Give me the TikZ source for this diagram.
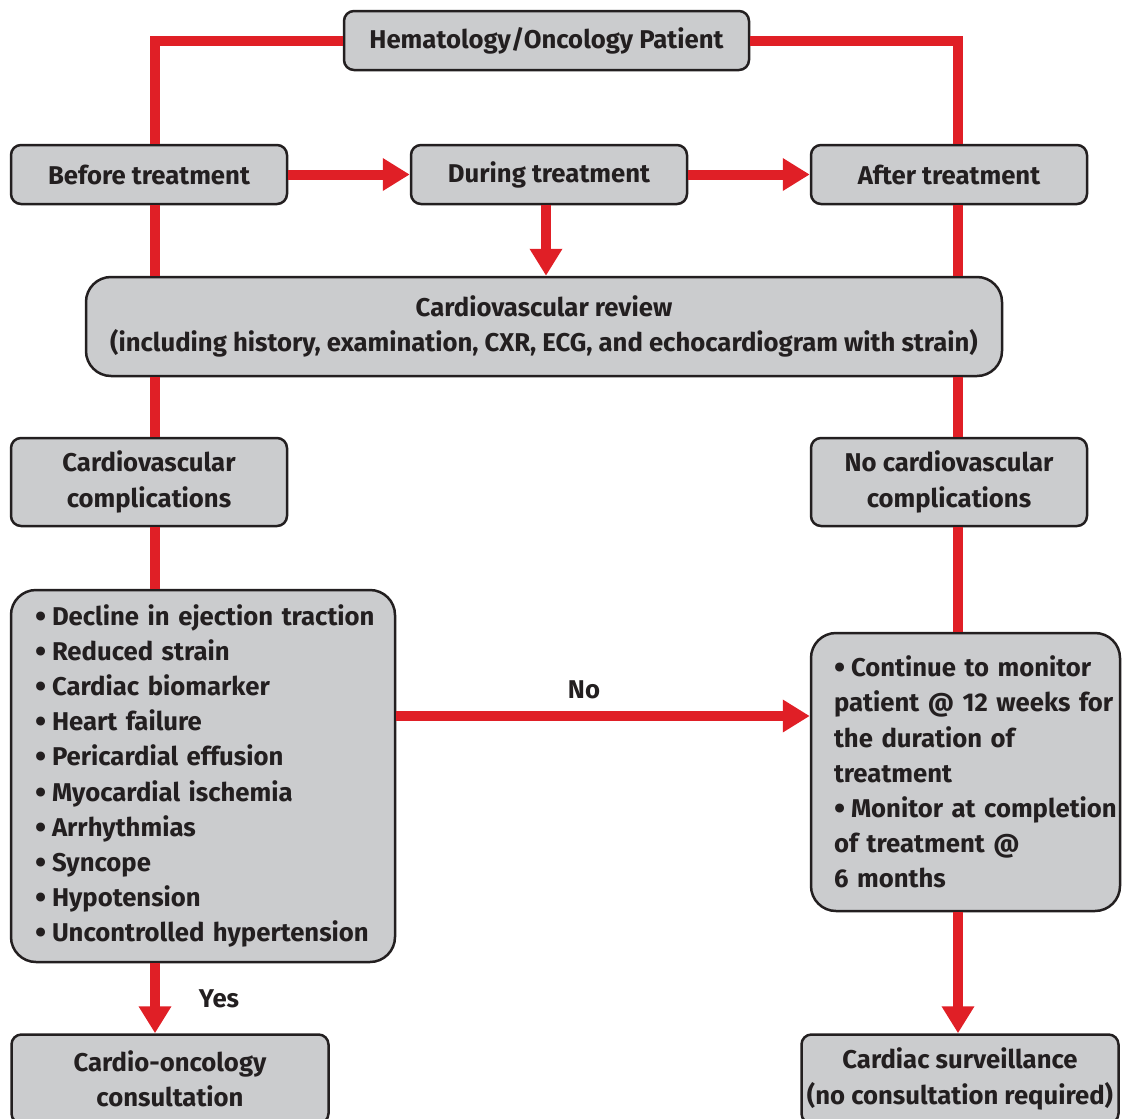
\documentclass[tikz,border=0pt]{standalone}
\usepackage{fontspec}
\setmainfont{Fira Sans}
\usetikzlibrary{arrows.meta}
\definecolor{redl}{HTML}{E01F26}
\definecolor{boxg}{HTML}{CBCCCE}
\definecolor{ink}{HTML}{231F20}
\newcommand{\bul}{\makebox[17pt][l]{\raisebox{-2pt}{\scalebox{1.25}{•}}}}
\begin{document}
\begin{tikzpicture}[x=1pt,y=-1pt,
 box/.style={draw=ink, line width=2.5pt, fill=boxg, rounded corners=10pt, text=ink,
   font=\fontsize{25.7}{35.2}\selectfont\bfseries, align=center, inner sep=0pt},
 bigbox/.style={box, rounded corners=25pt},
 link/.style={draw=redl, line width=10pt},
 arr/.style={link, -{Triangle[length=27pt,width=31pt]}},
 lbl/.style={text=ink, font=\fontsize{25.7}{30}\selectfont\bfseries, inner sep=0pt}
]
\useasboundingbox (0,0) rectangle (1122,1119);
\clip (0,0) rectangle (1122,1119);

\node[box, minimum width=405pt, minimum height=59pt] (top) at (546.5,40.5) {Hematology/Oncology Patient};
\node[box, minimum width=276pt, minimum height=59pt] (before) at (149,174.5) {Before treatment};
\node[box, minimum width=276pt, minimum height=59pt] (during) at (549,174.5) {During treatment};
\node[box, minimum width=276pt, minimum height=59pt] (after) at (949,174.5) {After treatment};
\node[bigbox, minimum width=916pt, minimum height=99pt] (cv) at (544,326.5)
  {Cardiovascular review\\(including history, examination, CXR, ECG, and echocardiogram with strain)};
\node[box, minimum width=276pt, minimum height=88pt] (cvcomp) at (149,482) {Cardiovascular\\complications};
\node[box, minimum width=276pt, minimum height=88pt] (nocv) at (949,482) {No cardiovascular\\complications};
\node[bigbox, minimum width=384pt, minimum height=372pt, text width=336pt, align=left] (list) at (203,776)
  {\mbox{\bul Decline in ejection traction}\\
   \mbox{\bul Reduced strain}\\
   \mbox{\bul Cardiac biomarker}\\
   \mbox{\bul Heart failure}\\
   \mbox{\bul Pericardial effusion}\\
   \mbox{\bul Myocardial ischemia}\\
   \mbox{\bul Arrhythmias}\\
   \mbox{\bul Syncope}\\
   \mbox{\bul Hypotension}\\
   \mbox{\bul Uncontrolled hypertension}};
\node[bigbox, minimum width=309pt, minimum height=278pt, text width=263pt, align=left] (monitor) at (965.5,772)
  {\mbox{\bul Continue to monitor}\\
   \mbox{patient @ 12 weeks for}\\
   \mbox{the duration of}\\
   \mbox{treatment}\\
   \mbox{\bul Monitor at completion}\\
   \mbox{of treatment @}\\
   \mbox{6 months}};
\node[box, minimum width=317pt, minimum height=89pt] (cardio) at (170,1079) {Cardio-oncology\\consultation};
\node[box, minimum width=317pt, minimum height=89pt] (surv) at (960,1079) {Cardiac surveillance\\(no consultation required)};

\coordinate (L) at (155,0);
\coordinate (R) at (958,0);
\coordinate (N) at (0,716);

\draw[link] (top.west) -| (L |- before.north);
\draw[link] (top.east) -| (R |- after.north);
\draw[arr] (before.east) -- (during.west);
\draw[arr] (during.east) -- (after.west);
\draw[arr] ([xshift=-3pt]during.south) -- ([xshift=-3pt]during.south |- cv.north);
\draw[link] (L |- before.south) -- (L |- cv.north);
\draw[link] (R |- after.south) -- (R |- cv.north);
\draw[link] (L |- cv.south) -- (L |- cvcomp.north);
\draw[link] (R |- cv.south) -- (R |- nocv.north);
\draw[link] (L |- cvcomp.south) -- (L |- list.north);
\draw[link] (R |- nocv.south) -- (R |- monitor.north);
\draw[arr] (L |- list.south) -- (L |- cardio.north);
\draw[arr] (R |- monitor.south) -- (R |- surv.north);
\draw[arr] (list.east |- N) -- (monitor.west |- N);

\node[lbl] (no) at (584,690) {No};
\node[lbl] (yes) at (219,999) {Yes};
\end{tikzpicture}
\end{document}
